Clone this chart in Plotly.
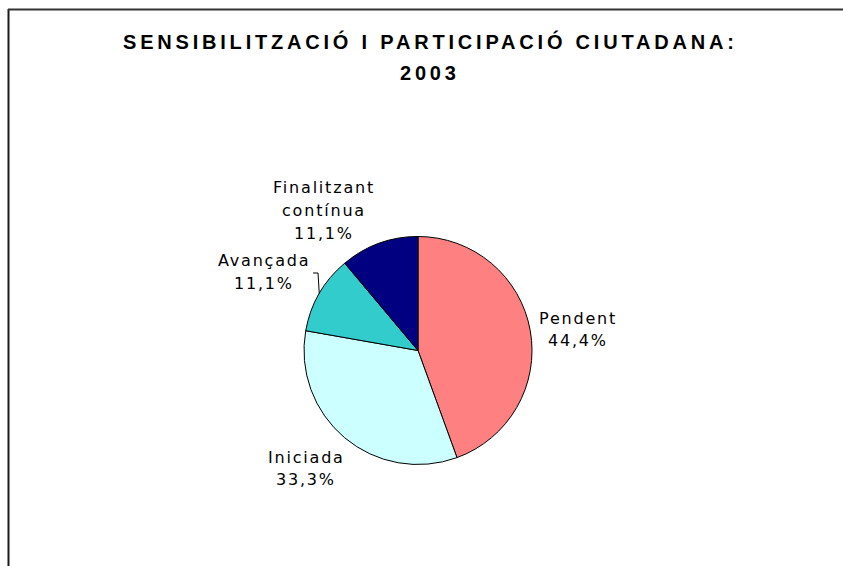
import math
import plotly.graph_objects as go

# Project status counts (number of actions in each state)
labels = ["Pendent", "Iniciada", "Avançada", "Finalitzant contínua"]
label_lines = [["Pendent"], ["Iniciada"], ["Avançada"], ["Finalitzant", "contínua"]]
values = [4, 3, 1, 1]
colors = ["#FF8080", "#CCFFFF", "#33CCCC", "#000080"]

title_lines = ["SENSIBILITZACIÓ I PARTICIPACIÓ CIUTADANA:", "2003"]

W, H = 843, 566
CX, CY, R = 418, 350.5, 114                       # pie centre and radius, pixels
label_pos = [(578, 318), (306, 457), (264, 261), (324, 188)]  # first-line centres, pixels
LINE_H = 22.5                                      # label line spacing, pixels
TITLE_X, TITLE_Y, TITLE_LH = 430, 42, 30.5


def px(x):
    return x / W


def py(y):
    return 1 - y / H


def spaced(s, sp):
    return f'<span style="letter-spacing:{sp}px">{s}</span>'


total = sum(values)
pcts = [v / total * 100 for v in values]

fig = go.Figure(
    go.Pie(
        labels=labels,
        values=values,
        sort=False,
        direction="clockwise",
        rotation=0,
        marker=dict(colors=colors, line=dict(color="#000000", width=1)),
        textinfo="none",
        hoverinfo="label+percent",
        showlegend=False,
        domain=dict(x=[px(CX - R), px(CX + R)], y=[py(CY + R), py(CY - R)]),
    )
)

annotations = []
for lines, p, (x, y) in zip(label_lines, pcts, label_pos):
    all_lines = lines + [f"{p:.1f}%".replace(".", ",")]
    for i, line in enumerate(all_lines):
        annotations.append(
            dict(
                x=px(x), y=py(y + i * LINE_H), xref="paper", yref="paper",
                text=spaced(line, 1.8), showarrow=False,
                xanchor="center", yanchor="middle",
                font=dict(family="DejaVu Sans", size=16, color="#000000"),
            )
        )

for i, line in enumerate(title_lines):
    annotations.append(
        dict(
            x=px(TITLE_X), y=py(TITLE_Y + i * TITLE_LH), xref="paper", yref="paper",
            text=f"<b>{spaced(line, 3.8)}</b>", showarrow=False,
            xanchor="center", yanchor="middle",
            font=dict(family="Liberation Sans", size=20, color="#000000"),
        )
    )

# Leader line from the "Avançada" label to the edge of its slice
cum = sum(values[:2]) + values[2] / 2
ang = math.radians(cum / total * 360)
ex, ey = CX + R * math.sin(ang), CY - R * math.cos(ang)
leader = f"M {px(313)},{py(273)} L {px(318)},{py(273)} L {px(ex)},{py(ey)}"

shapes = [
    dict(type="path", path=leader, xref="paper", yref="paper",
         line=dict(color="#000000", width=1)),
    # chart frame (left and top edges)
    dict(type="line", xref="paper", yref="paper", x0=px(8.5), x1=px(8.5), y0=py(9), y1=py(H + 2),
         line=dict(color="#1a1a1a", width=2)),
    dict(type="line", xref="paper", yref="paper", x0=px(8), x1=px(W + 2), y0=py(9.5), y1=py(9.5),
         line=dict(color="#333333", width=2)),
]

fig.update_layout(
    width=W, height=H,
    margin=dict(l=0, r=0, t=0, b=0),
    paper_bgcolor="#FFFFFF", plot_bgcolor="#FFFFFF",
    annotations=annotations, shapes=shapes,
)

fig.write_html("out.html")
